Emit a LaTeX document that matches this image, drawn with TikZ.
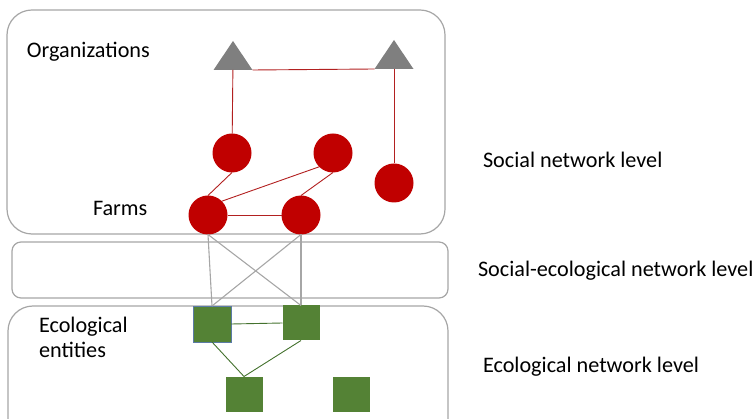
\documentclass[tikz,border=0pt]{standalone}
\usepackage{fontspec}
\setmainfont{Carlito}
\usetikzlibrary{shapes.geometric}

\definecolor{farmred}{HTML}{C00000}
\definecolor{tiered}{HTML}{B22020}
\definecolor{ecogreen}{HTML}{548235}
\definecolor{tiegreen}{HTML}{44722E}
\definecolor{orggray}{HTML}{7F7F7F}
\definecolor{boxgray}{HTML}{A6A6A6}
\definecolor{edgeblue}{HTML}{5B7BA6}

\begin{document}
\begin{tikzpicture}[
                        x=1pt, y=-1pt,
                        every node/.style={
                            inner sep=0pt,
                            outer sep=0pt
                        },
                        level/.style={
                            rectangle,
                            draw=boxgray,
                            line width=1.2pt,
                            rounded corners=25pt
                        },
                        organization/.style={
                            isosceles triangle,
                            isosceles triangle stretches,
                            shape border rotate=90,
                            fill=orggray,
                            minimum width=39pt,
                            minimum height=29pt,
                            anchor=apex
                        },
                        farm/.style={
                            circle,
                            fill=farmred,
                            minimum size=39pt
                        },
                        entity/.style={
                            rectangle,
                            fill=ecogreen,
                            minimum width=37pt,
                            minimum height=35pt
                        },
                        caption/.style={
                            anchor=base west,
                            align=left,
                            font=\fontsize{22.2}{25}\selectfont
                        },
                        social_tie/.style={
                            draw=tiered,
                            line width=0.9pt
                        },
                        cross_tie/.style={
                            draw=boxgray,
                            line width=1.1pt
                        },
                        eco_tie/.style={
                            draw=tiegreen,
                            line width=0.9pt
                        }]

                        \useasboundingbox (0,0) rectangle (752,419);

                        % levels
                        \node (social_level) [level, minimum width=438pt, minimum height=224pt] at (226,122) {};
                        \node (link_level) [level, rounded corners=9pt, minimum width=436pt, minimum height=56pt] at (230,270) {};
                        \node (eco_level) [level, minimum width=440pt, minimum height=144pt] at (228,378) {};

                        \node (organizations_text) [caption] at (27,58) {Organizations};
                        \node (farms_text) [caption] at (93,216) {Farms};
                        \node (entities_text) [caption] at (39,358) {Ecological\\[0pt]entities};

                        \node (social_text) [caption] at (483,168) {Social network level};
                        \node (link_text) [caption] at (478,277) {Social-ecological network level};
                        \node (eco_text) [caption] at (483,373) {Ecological network level};

                        \node (org_left) [organization] at (233,41) {};
                        \node (org_right) [organization] at (394,40) {};

                        \node (farm_top_left) [farm] at (232,153) {};
                        \node (farm_top_mid) [farm] at (333,153) {};
                        \node (farm_right) [farm] at (394,183) {};
                        \node (farm_low_left) [farm] at (208,215) {};
                        \node (farm_low_right) [farm] at (301,215) {};

                        \node (entity_top_left) [entity, minimum width=38pt, minimum height=36pt, draw=edgeblue, line width=0.6pt] at (212,324) {};
                        \node (entity_top_right) [entity] at (301,323) {};
                        \node (entity_low_left) [entity] at (244,394) {};
                        \node (entity_low_right) [entity] at (351,394) {};

                        \draw [social_tie] (org_left.right corner) -- (org_right.left corner);
                        \draw [social_tie] (org_left) -- (farm_top_left);
                        \draw [social_tie] (org_right) -- (farm_right);
                        \draw [social_tie] (farm_low_left.north) -- (farm_top_left.south);
                        \draw [social_tie] (farm_low_left.north east) -- (farm_top_mid.south west);
                        \draw [social_tie] (farm_low_right.north) -- (farm_top_mid.south);
                        \draw [social_tie] (farm_low_left.east) -- (farm_low_right.west);

                        \draw [cross_tie] (farm_low_left.south) -- (entity_top_left.north);
                        \draw [cross_tie] (farm_low_left.south) -- (entity_top_right.north);
                        \draw [cross_tie] (farm_low_right.south) -- (entity_top_left.north);
                        \draw [cross_tie] (farm_low_right.south) -- (entity_top_right.north);

                        \draw [eco_tie] (entity_top_left.east) -- (entity_top_right.west);
                        \draw [eco_tie] (entity_top_left.south) -- (entity_low_left.north);
                        \draw [eco_tie] (entity_top_right.south) -- (entity_low_left.north);

                    \end{tikzpicture}
\end{document}
